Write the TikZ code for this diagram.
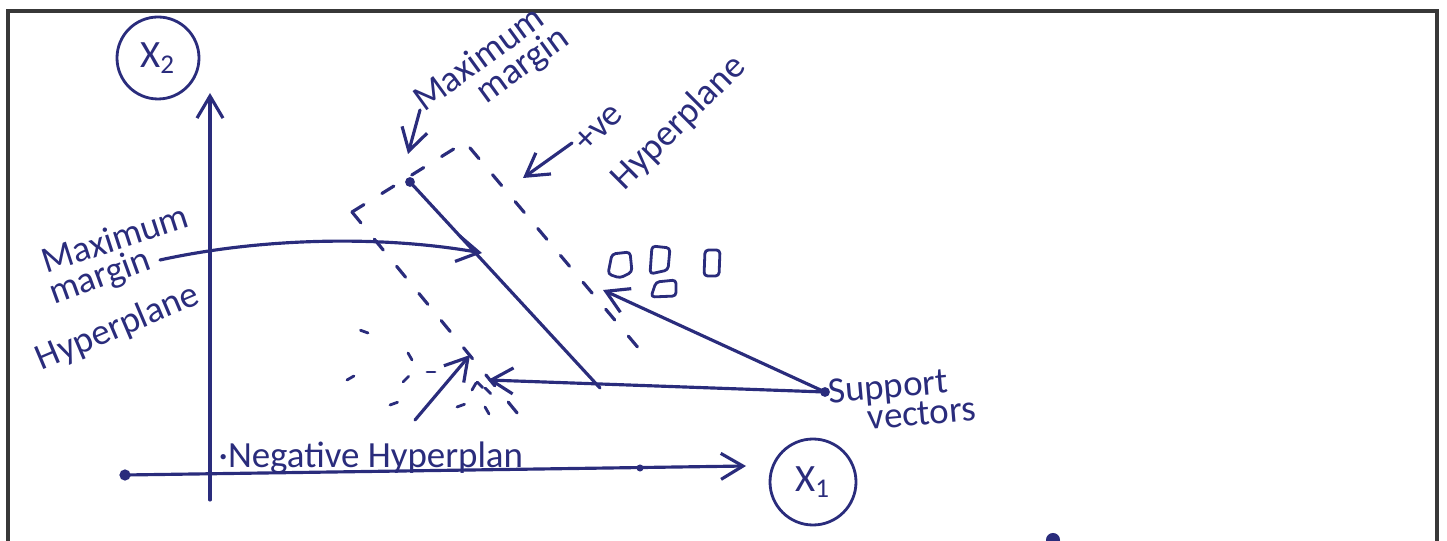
\documentclass[tikz,border=0pt]{standalone}
\usepackage{fontspec}
\setmainfont{Carlito}
\usetikzlibrary{positioning, arrows.meta, calc}
\definecolor{ink}{HTML}{2A2C7C}
\definecolor{frame}{HTML}{383838}

\begin{document}
\begin{tikzpicture}[>={Straight Barb[length=2.2mm, width=2.6mm]},
  pen/.style={ink, line width=0.9pt, line cap=round, line join=round},
  marginline/.style={pen, dash pattern=on 4pt off 6pt},
  hand/.style={text=ink, inner sep=0pt, align=left, font=\fontsize{10.5}{12}\selectfont},
  axislabel/.style={draw=ink, line width=0.8pt, circle, inner sep=0pt, minimum size=8.2mm, text=ink, font=\fontsize{11}{12}\selectfont},
  point/.style={pen, line width=0.8pt, rounded corners=1pt}]
  \useasboundingbox (0,0) rectangle (14.47,5.40);
  \clip (0,0) rectangle (14.47,5.40);

  % Frame
  \draw[frame, line width=1.3pt] (0.08,-0.3) -- (0.08,5.29) -- (14.37,5.29) -- (14.37,-0.3);

  % Axes
  \coordinate (ybot) at (2.10,0.40);
  \coordinate (ytop) at (2.10,4.47);
  \coordinate (xleft) at (1.25,0.65);
  \coordinate (xright) at (7.46,0.74);
  \draw[pen, ->] (ybot) -- (ytop);
  \draw[pen, ->] (xleft) -- (xright);
  \fill[ink] (xleft) circle (1.6pt);
  \fill[ink] (6.40,0.72) circle (1pt);
  \node[axislabel] (x2) at (1.58,4.82) {X\textsubscript{2}};
  \node[axislabel, minimum size=8.6mm] (x1) at (8.13,0.58) {X\textsubscript{1}};

  % Hyperplanes
  \coordinate (mtop) at (4.10,3.58);
  \coordinate (mbot) at (6.00,1.52);
  \coordinate (ntop) at (3.52,3.28);
  \coordinate (nbot) at (5.27,1.15);
  \coordinate (ptop) at (4.65,3.98);
  \coordinate (pbot) at (6.40,1.90);
  \draw[pen] (mtop) -- (mbot);
  \fill[ink] (mtop) circle (1.4pt);
  \draw[marginline] (ntop) -- (nbot);
  \draw[marginline] (ntop) -- (ptop) -- (pbot);

  % Positive points
  \draw[point] (6.08,2.66) -- (6.12,2.86) -- (6.30,2.88) -- (6.32,2.68) -- (6.20,2.62) -- cycle;
  \draw[point] (6.50,2.66) -- (6.52,2.94) -- (6.70,2.92) -- (6.68,2.70) -- cycle;
  \draw[point] (7.04,2.64) -- (7.05,2.90) -- (7.20,2.90) -- (7.19,2.64) -- cycle;
  \draw[point] (6.51,2.43) -- (6.56,2.58) -- (6.76,2.60) -- (6.76,2.44) -- cycle;

  % Negative points
  \foreach \x/\y/\a in {3.68/2.07/160, 4.08/1.87/-60, 3.47/1.60/30, 4.27/1.68/0,
                        4.03/1.58/45, 3.90/1.35/20, 4.57/1.33/20, 4.85/1.33/-60,
                        4.77/1.58/-45, 4.85/1.52/-45, 4.72/1.50/60}
    \draw[pen, line width=0.8pt] (\x,\y) -- ++(\a:0.08);

  % Labels
  \node[hand, rotate=36, font=\fontsize{10.5}{8.5}\selectfont] (mmlabel) at (4.92,4.70) {Maximum\\\hspace{1.5em}margin};
  \node[hand, rotate=45, font=\fontsize{10.5}{15}\selectfont] (poslabel) at (6.62,4.34) {+ve\\Hyperplane};
  \node[hand, rotate=18] (lmax) at (1.15,3.02) {Maximum};
  \node[hand, rotate=20] (lmarg) at (1.00,2.62) {margin};
  \node[hand, rotate=23] (lhyp) at (1.18,2.12) {Hyperplane};
  \node[hand, rotate=5, font=\fontsize{10.5}{8.5}\selectfont] (svlabel) at (9.02,1.40) {Support\\\hspace{1em}vectors};
  \node[hand, anchor=base west] (neglabel) at (2.18,0.72) {·Negative Hyperplan};

  % Pointers
  \coordinate (sv) at (8.25,1.48);
  \fill[ink] (sv) circle (1.4pt);
  \draw[pen, ->] (4.20,4.30) -- (4.08,3.86);
  \draw[pen, ->] (5.72,3.97) -- (5.23,3.62);
  \draw[pen, ->] (1.60,2.80) .. controls (2.60,3.02) and (3.80,3.05) .. (4.82,2.87);
  \draw[pen, ->] (sv) -- (6.03,2.50);
  \draw[pen, ->] (sv) -- (4.88,1.60);
  \draw[pen, ->] (4.15,1.20) -- (4.70,1.85);
  \fill[ink] (10.53,0.00) circle (2pt);
\end{tikzpicture}
\end{document}
